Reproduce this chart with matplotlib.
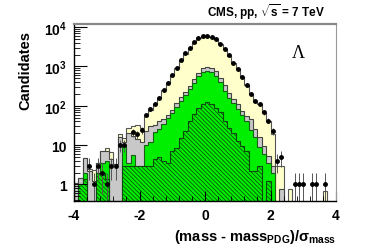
import numpy as np
import matplotlib
matplotlib.use('Agg')
import matplotlib.pyplot as plt
from matplotlib.ticker import FixedLocator, MultipleLocator, LogLocator, NullFormatter

plt.rcParams['font.family'] = ['Liberation Sans', 'DejaVu Sans']
plt.rcParams['font.weight'] = 'bold'
plt.rcParams['mathtext.fontset'] = 'custom'
plt.rcParams['mathtext.rm'] = 'Liberation Sans:bold'
plt.rcParams['mathtext.it'] = 'Liberation Sans:bold'
plt.rcParams['mathtext.bf'] = 'Liberation Sans:bold'
plt.rcParams['hatch.linewidth'] = 0.55

# 60 bins from -4 to 4
edges = np.linspace(-4, 4, 61)

# observed candidates per bin
data = [0, 0, 0, 3, 1, 3, 2, 1, 3, 3,
        10, 10, 0, 21, 19, 24, 58, 82, 114, 162,
        250, 390, 620, 930, 1450, 2140, 3020, 4070, 5250, 6000,
        6000, 5500, 4900, 3800, 2750, 1900, 1260, 850, 550, 340,
        204, 129, 110, 68, 42, 23, 4, 5, 0, 0,
        1, 1, 1, 0, 1, 1, 0, 1, 0, 0]

# stacked MC, cumulative levels (top of each layer)
total_mc = [1.1, 1.5, 4.6, 2.5, 2.3, 3.5, 7, 8.5, 6.5, 3.3,
            19, 15, 28, 30, 32, 28, 56, 80, 112, 160,
            245, 385, 610, 920, 1430, 2120, 3000, 4050, 5200, 5900,
            5950, 5450, 4850, 3750, 2700, 1880, 1250, 840, 545, 335,
            200, 127, 108, 66, 40, 19, 3, 3, 0, 0.75,
            0, 0, 0, 0, 0, 0, 0, 0.7, 0, 0]
grey_mc = [1.1, 1.5, 4.6, 2.2, 1.2, 3.5, 7, 7, 4.4, 3.3,
           16, 12, 20, 17, 14, 12, 23, 30, 33, 40,
           46, 60, 80, 115, 165, 230, 320, 470, 700, 930,
           980, 900, 750, 520, 330, 210, 150, 110, 75, 55,
           46, 25, 16, 9.5, 5.3, 3, 0, 0.75, 0, 0,
           0, 0, 0, 0, 0, 0, 0, 0, 0, 0]
green_mc = [0, 1, 2, 0, 0, 2, 3.5, 4, 0, 0,
            0, 10, 3.5, 5.5, 3, 3, 10, 12, 22, 26,
            35, 48, 65, 95, 135, 185, 260, 380, 560, 740,
            775, 720, 580, 400, 240, 160, 115, 85, 60, 40,
            24, 16, 9, 6, 3.5, 2, 0, 0, 0, 0,
            0, 0, 0, 0, 0, 0, 0, 0, 0, 0]
hatched_mc = [0, 1, 1.4, 0, 0, 2, 2, 1.4, 0, 0,
              0, 3, 3, 3, 3, 3, 3, 3, 4.4, 5,
              4, 3.5, 7, 8.5, 15, 23, 40, 62, 90, 110,
              126, 110, 87, 71, 40, 28, 20, 13, 9.6, 7,
              2.2, 2.2, 3, 0, 1.2, 0, 0, 0, 0, 0,
              0, 0, 0, 0, 0, 0, 0, 0, 0, 0]

fig = plt.figure(figsize=(3.74, 2.53), dpi=100)
ax = fig.add_axes([0.198, 0.2016, 0.7005, 0.6996])
ax.set_yscale('log')

floor = 1e-3
def layer(vals, **kw):
    v = np.maximum(np.array(vals, dtype=float), floor)
    ax.stairs(v, edges, baseline=floor, fill=True, **kw)
    ax.stairs(v, edges, baseline=floor, fill=False,
              color=kw.get('edgecolor', 'k'), lw=0.8)

layer(total_mc, facecolor='#FFFFCC', edgecolor='#555555')
layer(grey_mc, facecolor='#C8C8C8', edgecolor='#444444')
layer(green_mc, facecolor='#00EE00', edgecolor='#1A5E1A')
v = np.maximum(np.array(hatched_mc, dtype=float), floor)
ax.stairs(v, edges, baseline=floor, fill=True, facecolor='#00EE00',
          edgecolor='#0B4A0B', hatch='\\' * 8, lw=0.8)

# data points
centers = 0.5 * (edges[1:] + edges[:-1])
d = np.array(data, dtype=float)
m = d > 0
err = np.sqrt(d[m])
lo = d[m] - np.maximum(d[m] - err, 0.01)
ax.errorbar(centers[m], d[m], yerr=[lo, err], fmt='o', color='black',
            ms=2.5, elinewidth=0.7, ecolor='#555555', capsize=0)

ax.set_xlim(-4, 4)
ax.set_ylim(0.38, 1.2e4)

ax.xaxis.set_major_locator(MultipleLocator(2))
ax.xaxis.set_minor_locator(MultipleLocator(0.4))
ax.yaxis.set_major_locator(FixedLocator([1, 10, 100, 1000, 10000]))
ax.set_yticklabels(['1', '10', r'$10^{2}$', r'$10^{3}$', r'$10^{4}$'])
ax.yaxis.set_minor_locator(LogLocator(base=10, subs=np.arange(2, 10)))
ax.yaxis.set_minor_formatter(NullFormatter())
ax.set_xticks([-4, -2, 0, 2, 4])
ax.set_xticklabels(['-4', '-2', '0', '2', '4'])

ax.tick_params(which='both', direction='in', top=False, right=False,
               labelsize=10, pad=5)
ax.tick_params(axis='x', which='major', length=7)
ax.tick_params(axis='x', which='minor', length=3.5)
ax.tick_params(axis='y', which='major', length=9)
ax.tick_params(axis='y', which='minor', length=4.5)

ax.spines['top'].set_color('#888888')
ax.spines['top'].set_linewidth(1.6)
ax.spines['right'].set_color('#999999')
ax.spines['bottom'].set_linewidth(1.0)
ax.spines['left'].set_linewidth(1.0)

fig.text(0.067, 0.72, 'Candidates', rotation=90, ha='center', va='center',
         fontsize=10.5, fontweight='bold')
fig.text(0.9, 0.065, r'(mass - mass$_{\mathregular{PDG}}$)/$\sigma_{\mathregular{mass}}$',
         ha='right', va='center', fontsize=10.5, fontweight='bold')
fig.text(0.87, 0.953, r'CMS, pp, $\sqrt{s}$ = 7 TeV', ha='right', va='center',
         fontsize=8.5, fontweight='bold')
ax.text(0.855, 0.84, 'Λ', transform=ax.transAxes, ha='center', va='center',
        fontsize=13, family=['Liberation Serif', 'DejaVu Serif'], fontweight='normal')

fig.savefig('out.png', dpi=100)
